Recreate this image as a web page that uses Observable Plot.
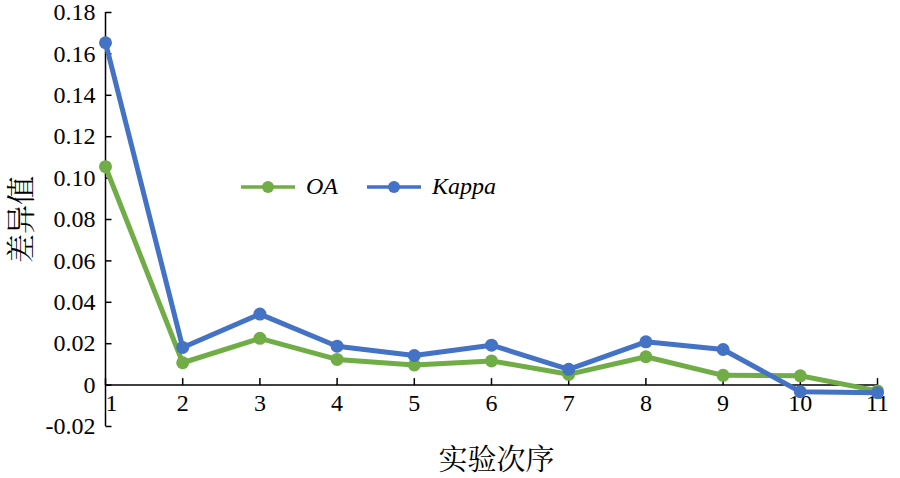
<!DOCTYPE html>
<html><head><meta charset="utf-8">
<script src="https://cdn.jsdelivr.net/npm/d3@7"></script>
<script src="https://cdn.jsdelivr.net/npm/@observablehq/plot@0.6"></script>
<style>
body{margin:0;background:#fff}
#wrap{position:relative;width:900px;height:478px}
.leg{position:absolute;display:flex;align-items:center;font-family:"Liberation Serif","Times New Roman",serif;font-style:italic;font-size:24px;color:#000}
.leg svg{margin-right:10px}
</style>
</head><body><div id="wrap"></div>
<script>
const runs = [1,2,3,4,5,6,7,8,9,10,11];
const oa = [0.1055,0.0108,0.0226,0.0124,0.0097,0.0117,0.0052,0.0137,0.0047,0.0045,-0.0028];
const kappa = [0.1654,0.0182,0.0343,0.0188,0.0143,0.0193,0.0076,0.0209,0.0172,-0.0032,-0.0037];
const yTicks = [-0.02,0,0.02,0.04,0.06,0.08,0.10,0.12,0.14,0.16,0.18];
const yTickLabels = ["-0.02","0","0.02","0.04","0.06","0.08","0.10","0.12","0.14","0.16","0.18"];
const xTicks = runs;
const xTickLabels = ["1","2","3","4","5","6","7","8","9","10","11"];
const seriesNames = ["OA","Kappa"];
const colors = ["#70AD47","#4472C4"];
const xTitle = "实验次序";
const yTitle = "差异值";

const data = runs.map((r,i)=>({run:r, oa:oa[i], kappa:kappa[i]}));
const upTick = {draw(ctx){ctx.moveTo(0,0);ctx.lineTo(0,-7);}};
const rightTick = {draw(ctx){ctx.moveTo(0,0);ctx.lineTo(6,0);}};
const serif = "'Liberation Serif','Times New Roman',serif";
const cjk = "'Noto Serif CJK SC','Noto Sans CJK SC',serif";

const chart = Plot.plot({
  width:900, height:478,
  marginLeft:105, marginRight:23, marginTop:12, marginBottom:52,
  x:{domain:[1,11], axis:null},
  y:{domain:[-0.02,0.18], axis:null},
  style:{background:"white", fontFamily:serif},
  marks:[
    Plot.ruleY([0], {stroke:"black", strokeWidth:1.5}),
    Plot.ruleX([xTicks[0]], {stroke:"black", strokeWidth:1.5}),
    Plot.dot(yTicks, {x:xTicks[0], y:d=>d, symbol:rightTick, stroke:"black", strokeWidth:1.5, fill:"none"}),
    Plot.dot(xTicks, {x:d=>d, y:0, symbol:upTick, stroke:"black", strokeWidth:1.5, fill:"none"}),
    Plot.text(yTicks, {x:xTicks[0], y:d=>d, text:(d,i)=>yTickLabels[i], textAnchor:"end", dx:-10, fontSize:24, fontFamily:serif, fill:"black"}),
    Plot.text(xTicks.slice(0,1), {x:d=>d, y:0, text:(d,i)=>xTickLabels[i], textAnchor:"start", dy:18, fontSize:24, fontFamily:serif, fill:"black"}),
    Plot.text(xTicks.slice(1), {x:d=>d, y:0, text:(d,i)=>xTickLabels[i+1], dy:18, fontSize:24, fontFamily:serif, fill:"black"}),
    Plot.text([xTitle], {frameAnchor:"bottom", textAnchor:"middle", lineAnchor:"middle", dy:34, dx:5, fontSize:29, fontFamily:cjk, fill:"black"}),
    Plot.text([yTitle], {frameAnchor:"left", textAnchor:"middle", lineAnchor:"middle", dx:-83, rotate:-90, fontSize:29, fontFamily:cjk, fill:"black"}),
    Plot.line(data, {x:"run", y:"oa", stroke:colors[0], strokeWidth:5}),
    Plot.dot(data, {x:"run", y:"oa", r:6.5, fill:colors[0]}),
    Plot.line(data, {x:"run", y:"kappa", stroke:colors[1], strokeWidth:5}),
    Plot.dot(data, {x:"run", y:"kappa", r:6.5, fill:colors[1]})
  ]
});
const wrap = document.getElementById("wrap");
wrap.appendChild(chart);
const legPos = [[240,173],[366,173]];
seriesNames.forEach((name,i)=>{
  const div = document.createElement("div");
  div.className = "leg";
  div.style.left = legPos[i][0]+"px";
  div.style.top = legPos[i][1]+"px";
  div.innerHTML = `<svg width="56" height="14"><line x1="1" y1="7" x2="55" y2="7" stroke="${colors[i]}" stroke-width="3.5"/><circle cx="28" cy="7" r="6" fill="${colors[i]}"/></svg><span>${name}</span>`;
  wrap.appendChild(div);
});
</script>
</body></html>
